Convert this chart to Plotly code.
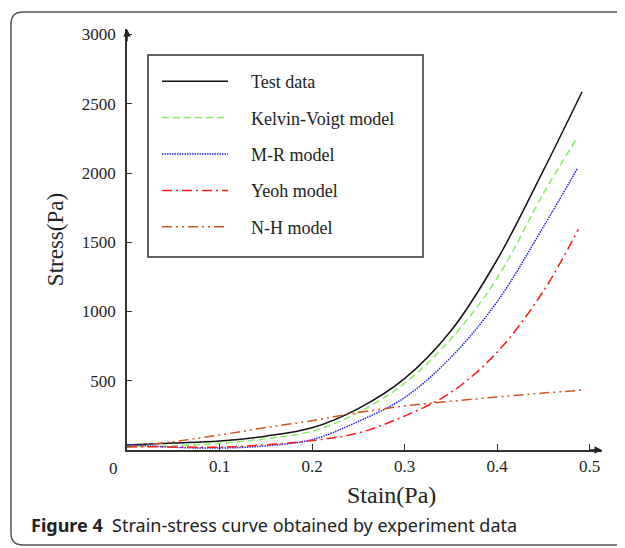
import plotly.graph_objects as go

# ---- data ----
strain = [0.0, 0.05, 0.1, 0.15, 0.2, 0.25, 0.3, 0.35, 0.4, 0.45, 0.492]
test_data = [36, 50, 65, 100, 160, 299, 515, 859, 1372, 2017, 2587]

kv_strain = [0.0, 0.05, 0.1, 0.15, 0.2, 0.25, 0.3, 0.35, 0.4, 0.45, 0.487]
kelvin_voigt = [24, 30, 48, 82, 135, 272, 481, 801, 1240, 1851, 2258]

mr_strain = [0.0, 0.05, 0.1, 0.15, 0.2, 0.25, 0.3, 0.35, 0.4, 0.45, 0.487]
mooney_rivlin = [40, 20, 14, 30, 75, 206, 378, 668, 1069, 1610, 2034]

yeoh_strain = [0.0, 0.05, 0.1, 0.15, 0.2, 0.25, 0.3, 0.35, 0.4, 0.45, 0.488]
yeoh = [24, 22, 20, 38, 68, 123, 245, 415, 705, 1146, 1594]

nh_strain = [0.0, 0.05, 0.1, 0.15, 0.2, 0.25, 0.3, 0.35, 0.4, 0.45, 0.4935]
neo_hookean = [22, 60, 108, 162, 212, 270, 318, 352, 383, 411, 433]

x_ticks = [0.1, 0.2, 0.3, 0.4, 0.5]
y_ticks = [500, 1000, 1500, 2000, 2500, 3000]

names = ["Test data", "Kelvin-Voigt model", "M-R model", "Yeoh model", "N-H model"]

# the page body has an 8px margin, so the figure is 8px smaller than the window
OFF = 8
W, H = 625 - OFF, 548 - OFF
L, R, T, B = 127 - OFF, 23, 29 - OFF, 548 - 450
PW, PH = W - L - R, H - T - B

def px(xp):  # screen x -> paper
    return (xp - OFF - L) / PW

def py(yp):  # screen y -> paper
    return (H - B - (yp - OFF)) / PH

serif = "Liberation Serif"
NB = "\u00a0" * 4

fig = go.Figure()
series = [
    (strain, test_data, "#111111", "solid", 1.5),
    (kv_strain, kelvin_voigt, "#8EEA66", "7px,4px", 1.5),
    (mr_strain, mooney_rivlin, "#2626F0", "1.5px,1px", 1.5),
    (yeoh_strain, yeoh, "#FF1A1A", "10px,4px,2px,4px", 1.5),
    (nh_strain, neo_hookean, "#CC5522", "10px,4px,2px,4px,2px,4px", 1.5),
]
for i, (xs, ys, col, dash, w) in enumerate(series):
    fig.add_trace(go.Scatter(
        x=xs, y=ys, mode="lines", name=NB + names[i], legendgroup=f"g{i}",
        line=dict(color=col, dash=dash, width=w, shape="spline", smoothing=1.0),
    ))

axis_font = dict(family=serif, size=17, color="#222")
fig.update_xaxes(
    range=[0, 0.5135], tickvals=x_ticks, ticktext=[str(v) for v in x_ticks],
    ticks="inside", ticklen=6, tickcolor="#333", tickwidth=1,
    showline=True, linecolor="#333", linewidth=1.5, automargin=False,
    showgrid=False, zeroline=False, tickfont=axis_font,
)
fig.update_yaxes(
    range=[0, 3040], tickvals=y_ticks, ticktext=[str(v) for v in y_ticks],
    ticks="inside", ticklen=5, tickcolor="#333", tickwidth=1,
    showline=True, linecolor="#333", linewidth=1.5, automargin=False,
    showgrid=False, zeroline=False, tickfont=axis_font, ticklabelstandoff=6,
    title=dict(text="Stress(Pa)", font=dict(family=serif, size=23, color="#222"), standoff=12),
)

# x-axis title (sits right of centre in the original)
fig.add_annotation(xref="paper", yref="paper", x=px(391), y=py(495), text="Stain(Pa)",
                   showarrow=False, xanchor="center", yanchor="middle",
                   font=dict(family=serif, size=24, color="#222"))

# axis arrows
fig.add_annotation(xref="paper", yref="paper", x=1, y=0, ax=-14, ay=0, text="",
                   showarrow=True, arrowhead=2, arrowsize=1, arrowwidth=1.5, arrowcolor="#222")
fig.add_annotation(xref="paper", yref="paper", x=0, y=1, ax=0, ay=14, text="",
                   showarrow=True, arrowhead=2, arrowsize=1, arrowwidth=1.5, arrowcolor="#222")
# origin label
fig.add_annotation(xref="x", yref="y", x=0, y=0, text="0", showarrow=False,
                   xshift=-14, yshift=-18, font=axis_font)

# caption
fig.add_annotation(xref="paper", yref="paper", x=px(29), y=py(525), xanchor="left", yanchor="middle",
                   text="<b>Figure 4</b>  Strain-stress curve obtained by experiment data",
                   showarrow=False, font=dict(family="Noto Sans", size=18, color="#222"))

# rounded outer frame
x0, y0, x1, y1, r = 11, 12, 660, 545, 12
path = (f"M {px(x0)},{py(y0 + r)} Q {px(x0)},{py(y0)} {px(x0 + r)},{py(y0)} "
        f"L {px(x1)},{py(y0)} L {px(x1)},{py(y1)} L {px(x0 + r)},{py(y1)} "
        f"Q {px(x0)},{py(y1)} {px(x0)},{py(y1 - r)} Z")
fig.add_shape(type="path", xref="paper", yref="paper", path=path,
              line=dict(color="#555", width=1.5), fillcolor="rgba(0,0,0,0)", layer="below")

# legend frame
fig.add_shape(type="rect", xref="paper", yref="paper",
              x0=px(148), x1=px(423), y0=py(55), y1=py(257),
              line=dict(color="#333", width=1.5), fillcolor="white", layer="below")

fig.update_layout(
    width=W, height=H, margin=dict(l=L, r=R, t=T, b=B, autoexpand=False),
    paper_bgcolor="white", plot_bgcolor="white",
    legend=dict(
        x=px(157), y=py(63), xanchor="left", yanchor="top",
        borderwidth=0, bgcolor="rgba(0,0,0,0)",
        font=dict(family=serif, size=18, color="#222"),
        itemwidth=66, tracegroupgap=10, traceorder="grouped",
    ),
    showlegend=True,
)

fig.write_html("out.html")
